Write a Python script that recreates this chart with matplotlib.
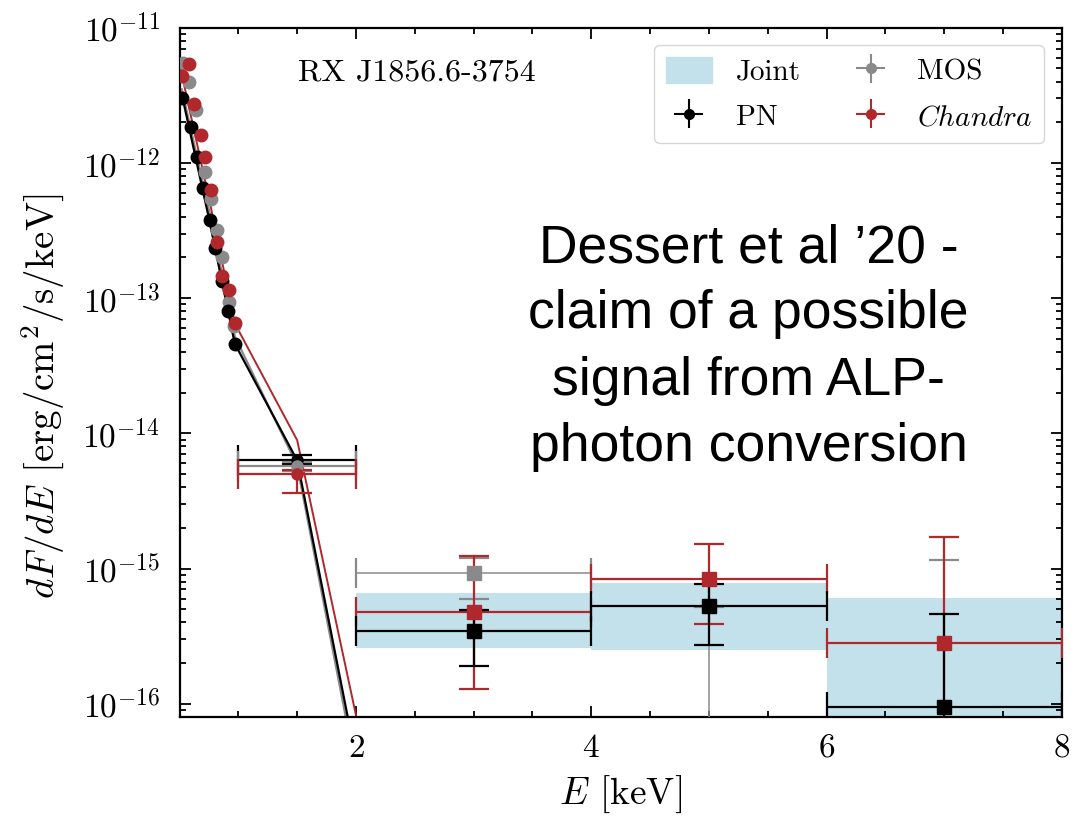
import matplotlib
matplotlib.use("Agg")
import matplotlib.pyplot as plt
from matplotlib.patches import Patch
from matplotlib.ticker import MultipleLocator, FixedLocator, LogLocator, NullFormatter

plt.rcParams["font.family"] = "serif"
plt.rcParams["font.serif"] = ["cmr10"]
plt.rcParams["mathtext.fontset"] = "cm"
plt.rcParams["axes.formatter.use_mathtext"] = True
plt.rcParams["axes.unicode_minus"] = False

RED = "#b0272c"
GRAY = "#8a8a8a"
BLUE = "#c2e1eb"

# low energy points (0.5 - 1 keV)
pn_E = [0.52, 0.60, 0.65, 0.70, 0.76, 0.80, 0.86, 0.91, 0.97]
pn_F = [3.0e-12, 1.85e-12, 1.1e-12, 6.5e-13, 3.8e-13, 2.35e-13, 1.35e-13, 8.1e-14, 4.6e-14]
mos_E = [0.53, 0.58, 0.64, 0.72, 0.77, 0.82, 0.86, 0.92, 0.96]
mos_F = [5.5e-12, 4.0e-12, 2.45e-12, 8.5e-13, 5.4e-13, 3.2e-13, 2.0e-13, 9.3e-14, 6.2e-14]
ch_E = [0.52, 0.58, 0.62, 0.68, 0.72, 0.77, 0.82, 0.86, 0.92, 0.97]
ch_F = [4.4e-12, 5.4e-12, 2.75e-12, 1.6e-12, 1.1e-12, 6.3e-13, 2.6e-13, 1.45e-13, 1.15e-13, 6.5e-14]

# 1-2 keV bin
mid_E = 1.5
mid_pn, mid_mos, mid_ch = 6.4e-15, 5.7e-15, 5.0e-15
mid_ch_lo = 3.6e-15

# 2-8 keV bins
hi_E = [3, 5, 7]
hi_pn = [3.48e-16, 5.24e-16, 9.5e-17]
hi_pn_up = [4.97e-16, 7.74e-16, 4.65e-16]
hi_pn_lo = [1.91e-16, 2.74e-16, 1e-17]
hi_mos = [9.2e-16, 3e-17, 3e-17]
hi_mos_up = [1.2e-15, 5.2e-16, 1.15e-15]
hi_mos_lo = [6.0e-16, 1e-18, 1e-18]
hi_ch = [4.8e-16, 8.3e-16, 2.83e-16]
hi_ch_up = [1.23e-15, 1.53e-15, 1.70e-15]
hi_ch_lo = [1.29e-16, 3.92e-16, 1e-17]

# joint band
joint_top = [6.6e-16, 7.8e-16, 6.1e-16]
joint_bot = [2.6e-16, 2.5e-16, 1e-17]

# model curves
mod_E = [0.52, 0.75, 0.97, 1.5, 3.0]
mod_pn = [3.2e-12, 3.9e-13, 4.6e-14, 6.3e-15, 1.5e-21]
mod_mos = [3.5e-12, 4.5e-13, 5.2e-14, 5.8e-15, 1.0e-21]
mod_ch = [4.5e-12, 5.5e-13, 6.5e-14, 8.9e-15, 7e-21]

fig = plt.figure(figsize=(10.88, 8.16), dpi=100)
ax = fig.add_axes([0.165, 0.121, 0.811, 0.845])
ax.set_yscale("log")

# joint band
ax.bar(hi_E, [t - b for t, b in zip(joint_top, joint_bot)], bottom=joint_bot,
       width=2, color=BLUE, zorder=1)

# models
ax.plot(mod_E, mod_mos, color=GRAY, lw=1.6, zorder=2)
ax.plot(mod_E, mod_pn, color="black", lw=1.6, zorder=2)
ax.plot(mod_E, mod_ch, color=RED, lw=1.4, zorder=2)

ekw = dict(capsize=11, elinewidth=1.6, capthick=1.6, linestyle="none", zorder=3)
for E, F, c in [(mos_E, mos_F, GRAY), (pn_E, pn_F, "black"), (ch_E, ch_F, RED)]:
    ax.errorbar(E, F, xerr=0.02, yerr=[[f * 0.05 for f in F], [f * 0.05 for f in F]],
                fmt="o", ms=9, color=c, ecolor=c, capsize=0, elinewidth=1.2, zorder=3)

# 1-2 keV bin
ax.errorbar([mid_E], [mid_pn], xerr=0.5, yerr=[[mid_pn * 0.08], [mid_pn * 0.08]],
            fmt="o", ms=8, color="black", **ekw)
ax.errorbar([mid_E], [mid_mos], xerr=0.5, yerr=[[mid_mos * 0.08], [mid_mos * 0.08]],
            fmt="o", ms=8, color=GRAY, **ekw)
ax.errorbar([mid_E], [mid_ch], xerr=0.5, yerr=[[mid_ch - mid_ch_lo], [mid_ch * 0.08]],
            fmt="o", ms=8, color=RED, **ekw)

# 2-8 keV bins
def hi(F, up, lo, c, lw=1.6):
    yerr = [[f - l for f, l in zip(F, lo)], [u - f for f, u in zip(F, up)]]
    ax.errorbar(hi_E, F, xerr=1, yerr=yerr, fmt="s", ms=10, color=c,
                capsize=11, elinewidth=lw, capthick=1.6, linestyle="none", zorder=3)

hi(hi_mos, hi_mos_up, hi_mos_lo, GRAY, lw=1.1)
hi(hi_ch, hi_ch_up, hi_ch_lo, RED)
hi(hi_pn, hi_pn_up, hi_pn_lo, "black")

ax.set_xlim(0.5, 8)
ax.set_ylim(10 ** -16.1, 1e-11)
ax.xaxis.set_major_locator(MultipleLocator(2))
ax.xaxis.set_minor_locator(MultipleLocator(0.5))
ax.yaxis.set_major_locator(FixedLocator([1e-16, 1e-15, 1e-14, 1e-13, 1e-12, 1e-11]))
ax.yaxis.set_minor_locator(LogLocator(base=10, subs=range(2, 10), numticks=20))
ax.yaxis.set_minor_formatter(NullFormatter())
ax.set_yticklabels([r"$10^{-16}$", r"$10^{-15}$", r"$10^{-14}$", r"$10^{-13}$",
                    r"$10^{-12}$", r"$10^{-11}$"])
ax.tick_params(which="both", direction="in", top=True, right=True, labelsize=24, width=1.3)
ax.tick_params(which="major", length=8)
ax.tick_params(axis="y", which="major", pad=14)
ax.tick_params(axis="x", which="major", pad=12)
ax.tick_params(which="minor", length=4)
for s in ax.spines.values():
    s.set_linewidth(1.6)

ax.set_xlabel(r"$E$ [keV]", fontsize=27, labelpad=8)
ax.set_ylabel(r"$dF/dE$ [erg/cm$^2$/s/keV]", fontsize=28)
ax.yaxis.set_label_coords(-0.128, 0.465)

ax.text(0.134, 0.935, "RX J1856.6-3754", transform=ax.transAxes, fontsize=23, va="center")

handles = [Patch(color=BLUE),
           ax.errorbar([], [], xerr=1, yerr=1, fmt="o", ms=7, color="black", capsize=5),
           ax.errorbar([], [], xerr=1, yerr=1, fmt="o", ms=7, color=GRAY, capsize=5),
           ax.errorbar([], [], xerr=1, yerr=1, fmt="o", ms=7, color=RED, capsize=5)]
labels = ["Joint", "PN", "MOS", r"$\mathit{Chandra}$"]
ax.legend(handles, labels, ncol=2, loc="upper right", fontsize=21, frameon=True,
          fancybox=True, edgecolor="#cccccc", borderaxespad=0.6, columnspacing=1.6,
          handletextpad=0.8, labelspacing=0.55, handlelength=1.6, handleheight=1.0)

fig.text(0.688, 0.574, "Dessert et al \u201920 -\nclaim of a possible\nsignal from ALP-\nphoton conversion",
         family="Liberation Sans", fontsize=38.5, ha="center", va="center", linespacing=1.42)

fig.savefig("out.png", dpi=100)
